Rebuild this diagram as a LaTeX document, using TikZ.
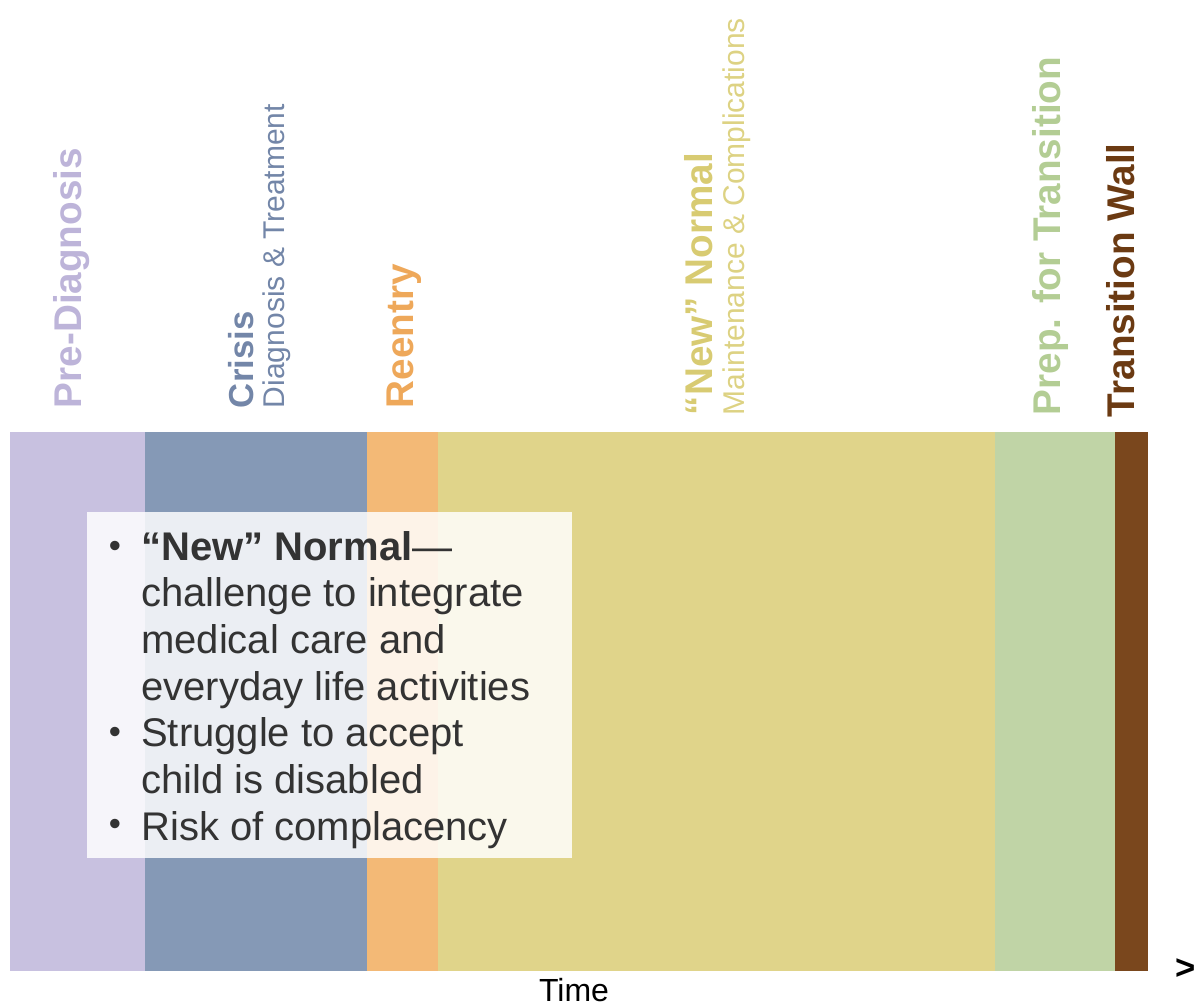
\documentclass[tikz,border=0pt]{standalone}
\usepackage{fontspec}
\setmainfont{Liberation Sans}
\definecolor{cPre}{HTML}{C8C1E0}
\definecolor{cCri}{HTML}{8599B6}
\definecolor{cRee}{HTML}{F3B976}
\definecolor{cNew}{HTML}{E0D48A}
\definecolor{cPrep}{HTML}{C0D4A6}
\definecolor{cWall}{HTML}{7A471D}
\definecolor{tPre}{HTML}{BDB4D9}
\definecolor{tCri}{HTML}{7386A8}
\definecolor{tRee}{HTML}{EEA85A}
\definecolor{tNew}{HTML}{D8CB72}
\definecolor{tNewSub}{HTML}{DDD283}
\definecolor{tPrep}{HTML}{B3CD94}
\definecolor{tWall}{HTML}{6B3A12}
\definecolor{txt}{HTML}{333333}
\begin{document}
\begin{tikzpicture}[x=0.75pt,y=-0.75pt,
  vlab/.style={rotate=90,anchor=base west,inner sep=0pt,outer sep=0pt},
  big/.style={font=\fontsize{29}{34}\selectfont\bfseries},
  small/.style={font=\fontsize{22.5}{26}\selectfont},
  itemtxt/.style={anchor=base west,inner sep=0pt,align=left,text=txt,font=\fontsize{30}{34.9}\selectfont},
  bul/.style={anchor=center,inner sep=0pt,text=txt,font=\fontsize{26}{30}\selectfont}]
\useasboundingbox (0,0) rectangle (1197,1007);
% bands
\fill[cPre] (10,432) rectangle (145,971);
\fill[cCri] (145,432) rectangle (367,971);
\fill[cRee] (367,432) rectangle (438,971);
\fill[cNew] (438,432) rectangle (995,971);
\fill[cPrep] (995,432) rectangle (1115,971);
\fill[cWall] (1115,432) rectangle (1148,971);
% vertical labels
\node[vlab,big,text=tPre] (lpre) at (81,408) {Pre-Diagnosis};
\node[vlab,text=tCri,font=\fontsize{26}{30}\selectfont\bfseries] (lcri) at (253,408) {Crisis};
\node[vlab,small,text=tCri] (lcri2) at (284,408) {Diagnosis \& Treatment};
\node[vlab,big,text=tRee] (lree) at (413,408) {Reentry};
\node[vlab,big,text=tNew] (lnew) at (712,415) {“New” Normal};
\node[vlab,small,text=tNewSub] (lnew2) at (744,415) {Maintenance \& Complications};
\node[vlab,big,text=tPrep] (lprep) at (1060,415) {Prep. for Transition};
\node[vlab,big,text=tWall] (lwall) at (1134,417) {Transition Wall};
% text box
\fill[white,opacity=0.84] (87,512) rectangle (572,858);
\node[bul] (b1) at (115,549) {•};
\node[bul] (b2) at (115,735) {•};
\node[bul] (b3) at (115,827) {•};
\node[itemtxt] (i1) at (141,700) {\textbf{“New” Normal}—\\challenge to integrate\\medical care and\\everyday life activities};
\node[itemtxt] (i2) at (141,793) {Struggle to accept\\child is disabled};
\node[itemtxt] (i3) at (141,840) {Risk of complacency};
% axis labels
\node[anchor=base,inner sep=0pt,font=\fontsize{24}{28}\selectfont] (time) at (574,1001) {Time};
\node[anchor=center,inner sep=0pt,font=\fontsize{26}{30}\selectfont\bfseries] (arr) at (1186,969) {>};
\end{tikzpicture}
\end{document}
